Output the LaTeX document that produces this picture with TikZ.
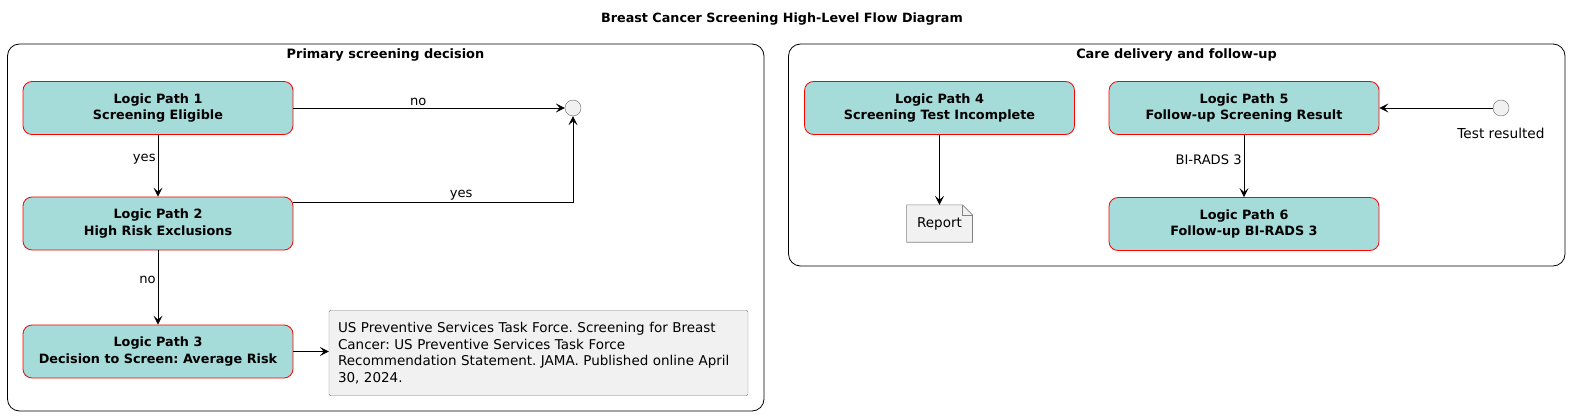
\documentclass[tikz,border=0pt]{standalone}
\usepackage{fontspec}
\setmainfont{DejaVu Sans}
\frenchspacing
\usetikzlibrary{arrows.meta,backgrounds}
\definecolor{pathfill}{RGB}{165,219,217}
\definecolor{notefill}{RGB}{241,241,241}
\definecolor{notedraw}{RGB}{130,130,130}
\begin{document}
\begin{tikzpicture}[x=1pt,y=-1pt,
    logic/.style={draw=red, fill=pathfill, line width=0.8pt, rounded corners=9pt, minimum width=270pt, minimum height=53pt, align=center, font=\fontsize{12.8}{16.6}\selectfont\bfseries},
    cluster/.style={draw, rounded corners=12pt, line width=0.8pt},
    ctitle/.style={font=\fontsize{12.9}{15}\selectfont\bfseries},
    lab/.style={font=\fontsize{13.1}{15}\selectfont, inner sep=2pt},
    arr/.style={-{Stealth[length=9pt,width=9pt,inset=4pt]}, line width=0.8pt},
    state/.style={circle, draw=black!60, fill=notefill, minimum size=16pt, inner sep=0pt},
    notebox/.style={draw=notedraw, fill=notefill, rounded corners=1.5pt, align=left, text width=401pt, inner xsep=9pt, minimum height=85.5pt, font=\fontsize{13.5}{16.5}\selectfont}
    ]
            \useasboundingbox (0,0) rectangle (1574,417);
            \node[font=\fontsize{12.75}{15}\selectfont\bfseries] (title) at (782,19) {Breast Cancer Screening High-Level Flow Diagram};

            \draw[cluster] (7.5,44) rectangle (764,411);
            \node[ctitle] (lefttitle) at (385.5,55) {Primary screening decision};
            \draw[cluster] (788.5,44) rectangle (1565,266);
            \node[ctitle] (righttitle) at (1176.5,55) {Care delivery and follow-up};

            \node[logic] (lp1) at (158,108) {Logic Path 1\\Screening Eligible};
            \node[logic] (lp2) at (158,223.5) {Logic Path 2\\High Risk Exclusions};
            \node[logic] (lp3) at (158,351.5) {Logic Path 3\\Decision to Screen: Average Risk};
            \node[state] (stop) at (573,108) {};
            \node[notebox] (note) at (538.5,353) {US Preventive Services Task Force. Screening for Breast\\Cancer: US Preventive Services Task Force\\Recommendation Statement. JAMA. Published online April\\30, 2024.};

            \draw[arr] (lp1) -- node[lab,above,pos=0.46] {no} (stop);
            \draw[arr] ([yshift=21pt]lp2.east) -| node[lab,above,pos=0.3] {yes} (stop);
            \draw[arr] (lp1) -- node[lab,left,pos=0.4] {yes} (lp2);
            \draw[arr] (lp2) -- node[lab,left,pos=0.4] {no} (lp3);
            \draw[arr] (lp3.east) -- (lp3.east -| note.west);

            \node[logic] (lp4) at (939.5,108) {Logic Path 4\\Screening Test Incomplete};
            \node[logic] (lp5) at (1244,108) {Logic Path 5\\Follow-up Screening Result};
            \node[logic] (lp6) at (1244,224) {Logic Path 6\\Follow-up BI-RADS 3};
            \node[font=\fontsize{13.5}{15}\selectfont, minimum width=65.5pt, minimum height=37pt] (report) at (939.5,223.5) {Report};
            \begin{scope}[on background layer]
                \filldraw[draw=notedraw, fill=notefill, line width=0.6pt] (report.north west) -- ([xshift=-10pt]report.north east) -- ([yshift=-10pt]report.north east) -- (report.south east) -- (report.south west) -- cycle;
                \draw[draw=notedraw, line width=0.6pt] ([xshift=-10pt]report.north east) -- ([xshift=-10pt,yshift=-10pt]report.north east) -- ([yshift=-10pt]report.north east);
            \end{scope}
            \node[state] (start) at (1501,108) {};
            \node[font=\fontsize{13.7}{15}\selectfont] (startlab) at (1501,133) {Test resulted};

            \draw[arr] (lp4) -- (report);
            \draw[arr] (start) -- (lp5);
            \draw[arr] (lp5) -- node[lab,left,pos=0.4] {BI-RADS 3} (lp6);
        \end{tikzpicture}
\end{document}
